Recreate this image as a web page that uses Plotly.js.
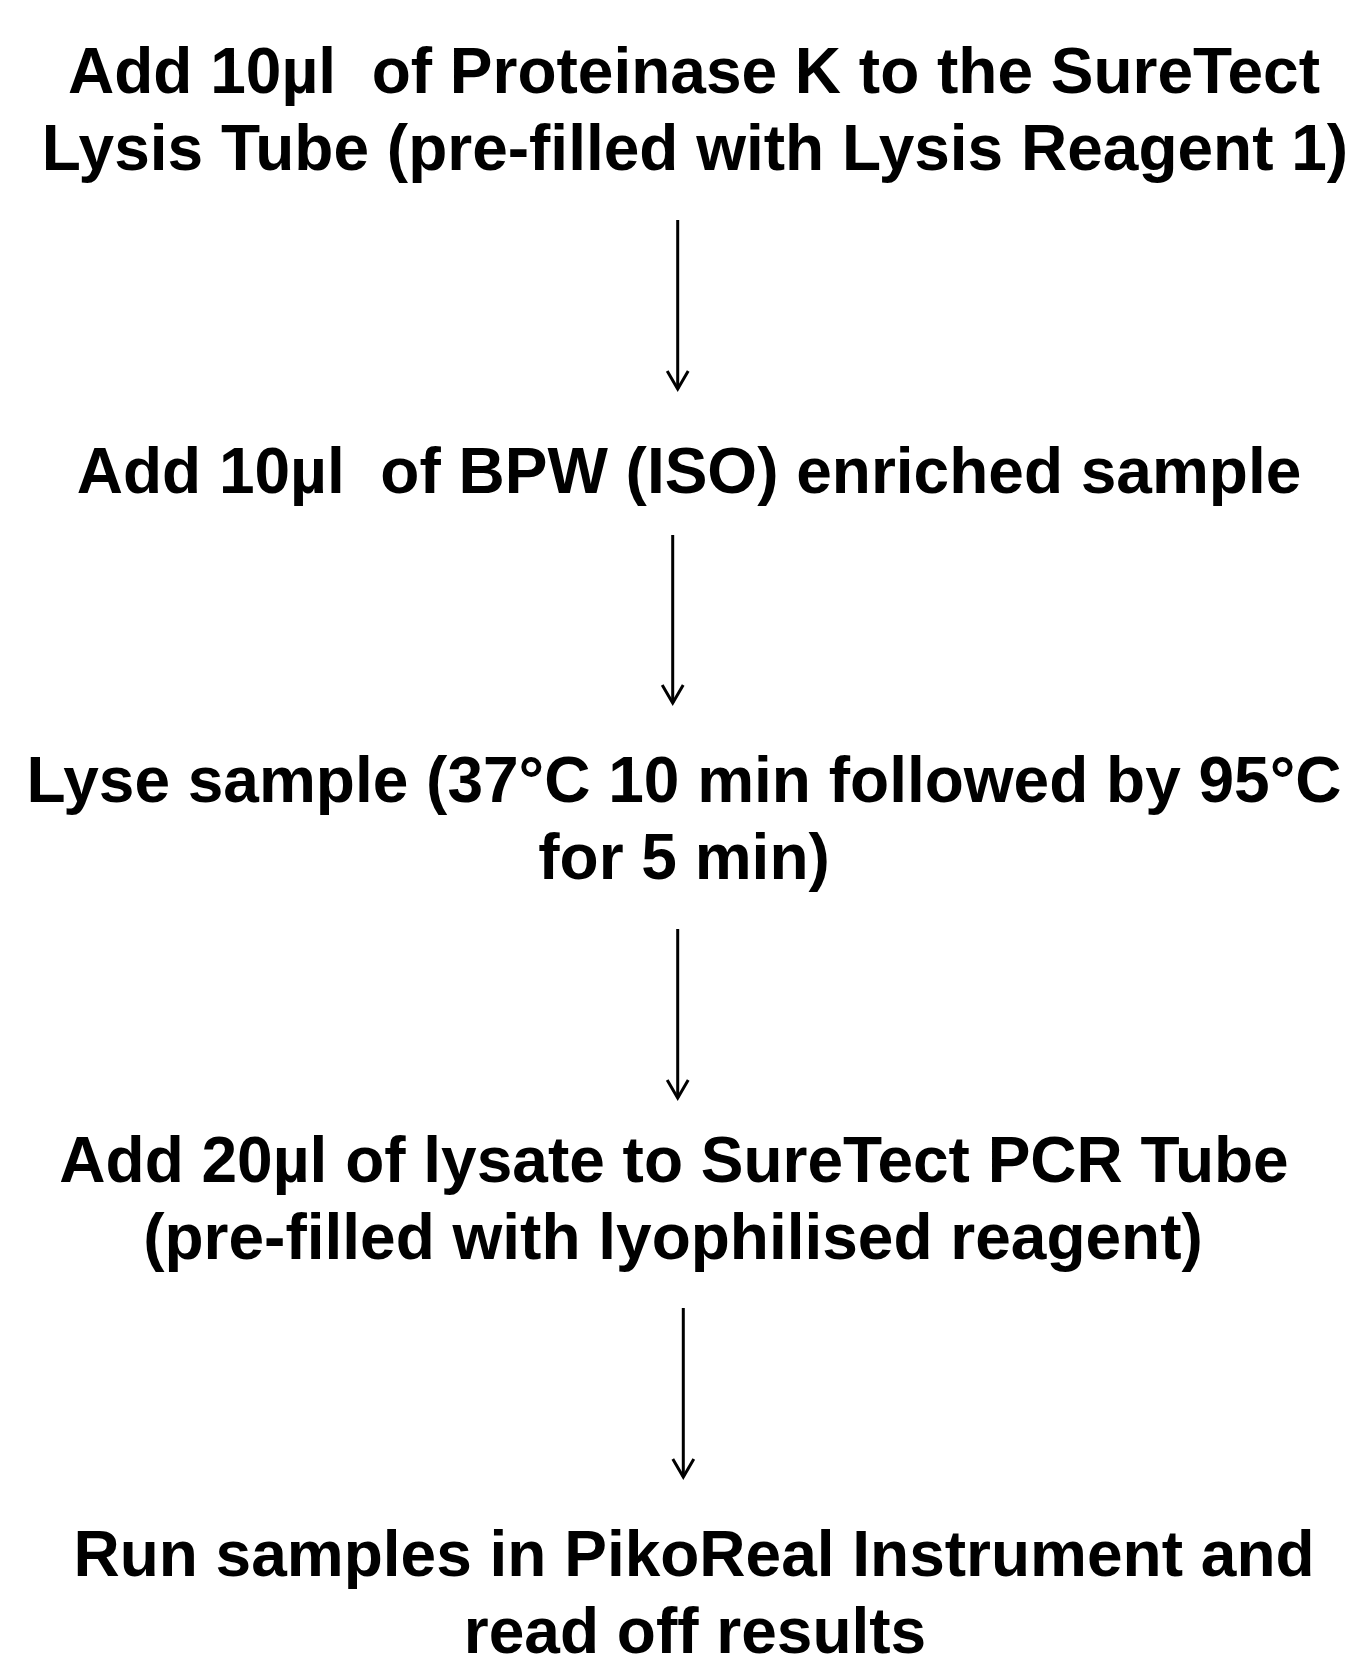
<!DOCTYPE html>
<html>
<head>
<meta charset="utf-8">
<script src="https://cdn.plot.ly/plotly-3.0.1.min.js"></script>
<style>
  html, body { margin: 0; padding: 0; background: #ffffff; }
  #chart { width: 1349px; height: 1664px; }
</style>
</head>
<body>
<div id="chart"></div>
<script>
// ---- Data: flowchart step texts (one entry per printed line) ----
var stepLines = [
  "Add 10\u00b5l \u00a0of Proteinase K to the SureTect",
  "Lysis Tube (pre-filled with Lysis Reagent 1)",
  "Add 10\u00b5l \u00a0of BPW (ISO) enriched sample",
  "Lyse sample (37\u00b0C 10 min followed by 95\u00b0C",
  "for 5 min)",
  "Add 20\u00b5l of lysate to SureTect PCR Tube",
  "(pre-filled with lyophilised reagent)",
  "Run samples in PikoReal Instrument and",
  "read off results"
];
var lineStep = [1, 1, 2, 3, 3, 4, 4, 5, 5];

// ---- Layout positions (page pixel coordinates) ----
var lineCenterX = [694, 695, 689, 684, 684, 674, 673, 694, 695];
var lineBaselineY = [94, 171, 494, 803, 880, 1183, 1260, 1577, 1654];
var arrowX = [677.7, 672.7, 677.7, 683.3];
var arrowTop = [220, 535, 929, 1308];
var arrowTip = [389, 703, 1098, 1477];

var W = 1349, H = 1664;
var fontSize = 64;
var baselineShift = 0.262;
var headHalf = 10.5, headLen = 18;

var traces = [];

// Text lines
traces.push({
  type: 'scatter',
  mode: 'text',
  x: lineCenterX,
  y: lineBaselineY.map(function (b) { return b - baselineShift * fontSize; }),
  text: stepLines,
  textposition: 'middle center',
  textfont: { family: '"Liberation Sans", Arial, sans-serif', size: fontSize, color: '#000000', weight: 'bold' },
  hoverinfo: 'none',
  showlegend: false,
  cliponaxis: false
});

// Arrows: shaft + open V head
for (var i = 0; i < arrowX.length; i++) {
  traces.push({
    type: 'scatter', mode: 'lines',
    x: [arrowX[i], arrowX[i]],
    y: [arrowTop[i], arrowTip[i]],
    line: { color: '#000000', width: 3 },
    hoverinfo: 'none', showlegend: false
  });
  traces.push({
    type: 'scatter', mode: 'lines',
    x: [arrowX[i] - headHalf, arrowX[i], arrowX[i] + headHalf],
    y: [arrowTip[i] - headLen, arrowTip[i], arrowTip[i] - headLen],
    line: { color: '#000000', width: 3 },
    hoverinfo: 'none', showlegend: false
  });
}

var layout = {
  width: W, height: H,
  margin: { l: 0, r: 0, t: 0, b: 0, pad: 0 },
  paper_bgcolor: '#ffffff',
  plot_bgcolor: '#ffffff',
  showlegend: false,
  xaxis: { range: [0, W], visible: false, fixedrange: true },
  yaxis: { range: [H, 0], visible: false, fixedrange: true }
};

Plotly.newPlot('chart', traces, layout, { staticPlot: true, displayModeBar: false });
</script>
</body>
</html>
